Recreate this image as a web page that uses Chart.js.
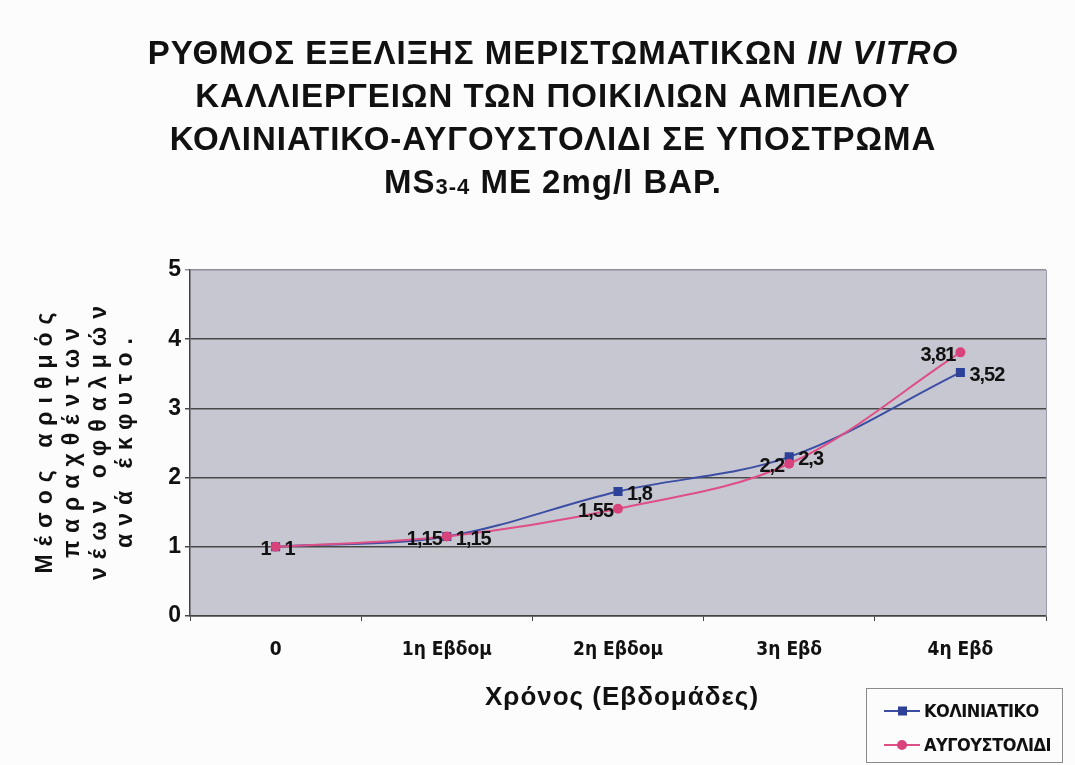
<!DOCTYPE html>
<html>
<head>
<meta charset="utf-8">
<script src="https://cdn.jsdelivr.net/npm/chart.js@4.4.1/dist/chart.umd.min.js"></script>
<style>
  html, body { margin: 0; padding: 0; background: #fcfcfc; }
  canvas { display: block; }
</style>
</head>
<body>
<canvas id="chart" width="1075" height="765"></canvas>
<script>
const weeks = ['0', '1η Εβδομ', '2η Εβδομ', '3η Εβδ', '4η Εβδ'];
const koliniatiko = [1, 1.15, 1.8, 2.3, 3.52];
const avgoustolidi = [1, 1.15, 1.55, 2.2, 3.81];
const seriesNames = ['ΚΟΛΙΝΙΑΤΙΚΟ', 'ΑΥΓΟΥΣΤΟΛΙΔΙ'];
const yMin = 0, yMax = 5;

const titleLines = [
  [{ t: 'ΡΥΘΜΟΣ ΕΞΕΛΙΞΗΣ ΜΕΡΙΣΤΩΜΑΤΙΚΩΝ ' }, { t: 'IN VITRO', italic: true }],
  [{ t: 'ΚΑΛΛΙΕΡΓΕΙΩΝ ΤΩΝ ΠΟΙΚΙΛΙΩΝ ΑΜΠΕΛΟΥ' }],
  [{ t: 'ΚΟΛΙΝΙΑΤΙΚΟ-ΑΥΓΟΥΣΤΟΛΙΔΙ ΣΕ ΥΠΟΣΤΡΩΜΑ' }],
  [{ t: 'MS' }, { t: '3-4', small: true }, { t: ' ΜΕ 2mg/l BAP.' }]
];
const yTitle = ['Μέσος αριθμός', 'παραχθέντων', 'νέων οφθαλμών', 'ανά έκφυτο.'];
const xTitle = 'Χρόνος (Εβδομάδες)';

const BLUE = '#3b4ea3', BLUE_PT = '#2c4197';
const PINK = '#de4f86', PINK_PT = '#d9437c';
const NARROW = "'Liberation Sans Narrow', 'DejaVu Sans Condensed', Arial, sans-serif";
const SANS = "'Liberation Sans', Arial, sans-serif";

const bgPlugin = {
  id: 'bg',
  beforeDraw(chart) {
    const { ctx, chartArea: a } = chart;
    ctx.save();
    ctx.fillStyle = '#fcfcfc';
    ctx.fillRect(0, 0, chart.width, chart.height);
    ctx.fillStyle = '#c7c7d1';
    ctx.fillRect(a.left, a.top, a.right - a.left, a.bottom - a.top);
    ctx.restore();
  },
  afterDraw(chart) {
    const { ctx, chartArea: a } = chart;
    ctx.save();
    ctx.strokeStyle = '#9c9cab';
    ctx.lineWidth = 1;
    ctx.beginPath();
    ctx.moveTo(a.right + 0.5, a.top);
    ctx.lineTo(a.right + 0.5, a.bottom);
    ctx.stroke();
    ctx.restore();
  }
};

const textPlugin = {
  id: 'texts',
  afterDraw(chart) {
    const { ctx, chartArea: a } = chart;
    ctx.save();
    ctx.fillStyle = '#111';
    ctx.textBaseline = 'alphabetic';
    ctx.textAlign = 'left';

    // main title
    const baselines = [64, 107, 150, 193];
    const fontFor = s => `${s.italic ? 'italic ' : ''}bold ${s.small ? 22 : 33}px ${SANS}`;
    ctx.letterSpacing = '1px';
    titleLines.forEach((segs, i) => {
      let w = 0;
      segs.forEach(s => { ctx.font = fontFor(s); w += ctx.measureText(s.t).width; });
      let x = 553 - w / 2;
      segs.forEach(s => {
        ctx.font = fontFor(s);
        ctx.fillText(s.t, x, baselines[i] + (s.small ? 1 : 0));
        x += ctx.measureText(s.t).width;
      });
    });

    // y axis title
    ctx.font = `bold 23px ${SANS}`;
    ctx.letterSpacing = '8px';
    ctx.textAlign = 'center';
    ctx.textBaseline = 'middle';
    const cols = [46, 73, 100, 126];
    const midY = (a.top + a.bottom) / 2;
    yTitle.forEach((line, i) => {
      ctx.save();
      ctx.translate(cols[i], midY);
      ctx.rotate(-Math.PI / 2);
      ctx.fillText(line, 4, 0);
      ctx.restore();
    });

    // x axis title
    ctx.font = `bold 26px ${SANS}`;
    ctx.letterSpacing = '1px';
    ctx.fillText(xTitle, (a.left + a.right) / 2 + 4, 698);

    // legend
    ctx.letterSpacing = '0px';
    ctx.strokeStyle = '#8a8a8a';
    ctx.lineWidth = 1;
    ctx.strokeRect(866.5, 688.5, 196, 74);
    const items = [
      { name: seriesNames[0], color: BLUE, pt: BLUE_PT, shape: 'rect', y: 711 },
      { name: seriesNames[1], color: PINK, pt: PINK_PT, shape: 'circle', y: 745 }
    ];
    items.forEach(it => {
      ctx.strokeStyle = it.color;
      ctx.lineWidth = 2;
      ctx.beginPath();
      ctx.moveTo(884, it.y);
      ctx.lineTo(920, it.y);
      ctx.stroke();
      ctx.fillStyle = it.pt;
      if (it.shape === 'rect') {
        ctx.fillRect(898, it.y - 4.5, 9, 9);
      } else {
        ctx.beginPath();
        ctx.arc(902, it.y, 5, 0, Math.PI * 2);
        ctx.fill();
      }
      ctx.fillStyle = '#111';
      ctx.font = `bold 18px ${NARROW}`;
      ctx.letterSpacing = '-0.5px';
      ctx.textAlign = 'left';
      ctx.textBaseline = 'middle';
      ctx.fillText(it.name, 924, it.y + 1);
    });
    ctx.restore();
  }
};

const labelPlugin = {
  id: 'pointLabels',
  afterDatasetsDraw(chart) {
    const { ctx } = chart;
    ctx.save();
    ctx.font = `bold 20px ${SANS}`;
    ctx.letterSpacing = '-1px';
    ctx.fillStyle = '#111';
    ctx.textBaseline = 'middle';
    const fmt = v => String(v).replace('.', ',');
    chart.getDatasetMeta(0).data.forEach((p, i) => {
      ctx.textAlign = 'left';
      ctx.fillText(fmt(koliniatiko[i]), p.x + 9, p.y + 3);
    });
    chart.getDatasetMeta(1).data.forEach((p, i) => {
      ctx.textAlign = 'right';
      ctx.fillText(fmt(avgoustolidi[i]), p.x - 5, p.y + 3);
    });
    ctx.restore();
  }
};

new Chart(document.getElementById('chart'), {
  type: 'line',
  plugins: [bgPlugin, labelPlugin, textPlugin],
  data: {
    labels: weeks,
    datasets: [
      {
        label: seriesNames[0],
        data: koliniatiko,
        borderColor: BLUE,
        backgroundColor: BLUE_PT,
        borderWidth: 2,
        pointStyle: 'rect',
        pointRadius: 6.4,
        pointBorderWidth: 0,
        tension: 0.35,
        order: 2
      },
      {
        label: seriesNames[1],
        data: avgoustolidi,
        borderColor: PINK,
        backgroundColor: PINK_PT,
        borderWidth: 2,
        pointStyle: 'circle',
        pointRadius: 5,
        pointBorderWidth: 0,
        tension: 0.35,
        order: 1
      }
    ]
  },
  options: {
    responsive: false,
    animation: false,
    layout: { padding: { left: 0, top: 270, right: 29, bottom: 0 } },
    scales: {
      x: {
        offset: true,
        grid: { display: true, drawOnChartArea: false, offset: true, tickLength: 5, color: '#444' },
        border: { display: true, color: '#444', width: 1.5 },
        ticks: { color: '#111', font: { family: NARROW, size: 19, weight: 'bold' }, padding: 18 },
        afterFit(s) { s.height = 149; }
      },
      y: {
        min: yMin,
        max: yMax,
        ticks: { stepSize: 1, color: '#111', font: { family: SANS, size: 23, weight: 'bold' }, padding: 4 },
        grid: {
          color: ctx => (ctx.tick && ctx.tick.value === yMax ? '#8f8f9c' : '#484848'),
          lineWidth: 1.5,
          tickLength: 5
        },
        border: { display: true, color: '#444', width: 1.5 },
        afterFit(s) { s.width = 190; }
      }
    },
    plugins: {
      legend: { display: false },
      title: { display: false },
      tooltip: { enabled: false }
    }
  }
});
</script>
</body>
</html>
